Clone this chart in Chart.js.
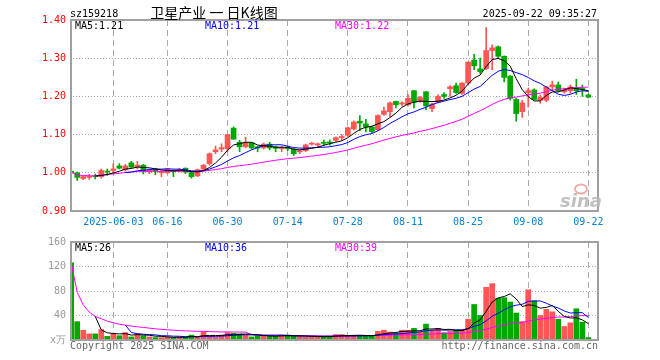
<!DOCTYPE html>
<html>
<head>
<meta charset="utf-8">
<script src="https://cdn.jsdelivr.net/npm/chart.js@4/dist/chart.umd.min.js"></script>
<style>
  html, body { margin: 0; padding: 0; background: #fff; }
  #wrap { position: relative; width: 660px; height: 360px; }
  #price { position: absolute; left: 0; top: 0; }
  #vol { position: absolute; left: 0; top: 232px; }
</style>
</head>
<body>
<div id="wrap">
  <canvas id="price" width="660" height="232"></canvas>
  <canvas id="vol" width="660" height="128"></canvas>
</div>
<script>
// daily candles, 2025-05-22 .. 2025-09-22 (87 trading days)
const opens = [
  1.004, 1.000, 0.985, 0.988, 0.992, 0.990, 1.004, 1.006, 1.018, 1.008,
  1.026, 1.015, 1.020, 1.003, 1.010, 1.000, 1.000, 1.006, 1.005, 1.012,
  1.000, 0.992, 1.010, 1.024, 1.055, 1.062, 1.063, 1.117, 1.080, 1.068,
  1.078, 1.068, 1.065, 1.075, 1.068, 1.063, 1.066, 1.062, 1.055, 1.058,
  1.075, 1.073, 1.080, 1.080, 1.085, 1.092, 1.098, 1.115, 1.135, 1.128,
  1.120, 1.113, 1.153, 1.160, 1.187, 1.180, 1.178, 1.215, 1.188, 1.212,
  1.168, 1.185, 1.205, 1.220, 1.228, 1.208, 1.235, 1.295, 1.272, 1.273,
  1.320, 1.330, 1.305, 1.253, 1.192, 1.160, 1.210, 1.217, 1.190, 1.190,
  1.225, 1.230, 1.212, 1.215, 1.223, 1.220, 1.204
];
const highs = [
  1.013, 1.002, 0.993, 0.996, 0.997, 1.010, 1.010, 1.024, 1.024, 1.022,
  1.030, 1.030, 1.022, 1.010, 1.012, 1.006, 1.012, 1.008, 1.012, 1.013,
  1.002, 1.010, 1.022, 1.052, 1.070, 1.076, 1.100, 1.120, 1.085, 1.093,
  1.080, 1.070, 1.078, 1.080, 1.070, 1.070, 1.070, 1.064, 1.060, 1.075,
  1.080, 1.078, 1.086, 1.086, 1.094, 1.100, 1.120, 1.136, 1.150, 1.140,
  1.122, 1.152, 1.172, 1.185, 1.188, 1.186, 1.205, 1.216, 1.200, 1.213,
  1.182, 1.205, 1.210, 1.228, 1.235, 1.236, 1.290, 1.310, 1.300, 1.380,
  1.335, 1.332, 1.306, 1.255, 1.195, 1.190, 1.222, 1.220, 1.204, 1.226,
  1.240, 1.238, 1.222, 1.230, 1.245, 1.230, 1.206
];
const lows = [
  0.999, 0.980, 0.982, 0.983, 0.984, 0.986, 0.993, 1.000, 1.010, 1.004,
  1.012, 1.010, 0.997, 0.998, 0.995, 0.990, 0.998, 0.990, 1.002, 0.998,
  0.986, 0.990, 1.005, 1.020, 1.050, 1.055, 1.055, 1.088, 1.055, 1.066,
  1.062, 1.055, 1.062, 1.060, 1.055, 1.055, 1.058, 1.045, 1.050, 1.055,
  1.072, 1.068, 1.070, 1.072, 1.082, 1.085, 1.095, 1.112, 1.110, 1.107,
  1.105, 1.110, 1.150, 1.147, 1.170, 1.175, 1.175, 1.170, 1.185, 1.165,
  1.160, 1.183, 1.195, 1.200, 1.208, 1.205, 1.232, 1.270, 1.260, 1.270,
  1.270, 1.300, 1.238, 1.190, 1.135, 1.145, 1.172, 1.190, 1.182, 1.186,
  1.215, 1.212, 1.208, 1.208, 1.205, 1.200, 1.196
];
const closes = [
  1.001, 0.988, 0.990, 0.990, 0.990, 1.006, 1.002, 1.010, 1.012, 1.018,
  1.015, 1.020, 1.005, 1.007, 1.004, 1.003, 1.010, 1.003, 1.009, 1.002,
  0.990, 1.008, 1.020, 1.050, 1.060, 1.066, 1.100, 1.088, 1.068, 1.078,
  1.065, 1.065, 1.075, 1.065, 1.064, 1.066, 1.063, 1.050, 1.058, 1.073,
  1.077, 1.076, 1.077, 1.078, 1.092, 1.095, 1.118, 1.133, 1.130, 1.120,
  1.108, 1.150, 1.162, 1.183, 1.178, 1.183, 1.195, 1.185, 1.197, 1.175,
  1.180, 1.200, 1.200, 1.225, 1.210, 1.235, 1.290, 1.280, 1.265, 1.320,
  1.327, 1.305, 1.250, 1.195, 1.155, 1.183, 1.215, 1.192, 1.197, 1.225,
  1.230, 1.215, 1.217, 1.225, 1.215, 1.218, 1.198
];
// volume in 万
const volumes = [
  126, 30, 16, 10, 10, 17, 6, 10, 7, 12,
  5, 10, 7, 5, 4, 4, 5, 4, 5, 5,
  8, 5, 13, 6, 5, 8, 12, 11, 10, 8,
  5, 7, 7, 6, 6, 8, 8, 6, 6, 5,
  5, 6, 5, 6, 9, 9, 7, 7, 7, 7,
  7, 14, 16, 13, 11, 16, 16, 19, 13, 26,
  16, 19, 12, 14, 16, 16, 34, 58, 40, 86,
  92, 68, 69, 62, 44, 30, 82, 64, 40, 50,
  46, 34, 22, 28, 51, 29, 4
];
const tickIdx = [7, 16, 26, 36, 46, 56, 66, 76, 86];
const tickLabels = ['2025-06-03', '06-16', '06-30', '07-14', '07-28', '08-11', '08-25', '09-08', '09-22'];
const priceTicks = [0.9, 1.0, 1.1, 1.2, 1.3, 1.4];

const RED = '#ff5555';
const GREEN = '#00a800';
const MONO = '"DejaVu Sans Mono", "Liberation Mono", monospace';

function movingAvg(arr, n, fromStart) {
  return arr.map((_, i) => {
    if (i < n - 1 && !fromStart) return null;
    const s = arr.slice(Math.max(0, i - n + 1), i + 1);
    return s.reduce((a, b) => a + b, 0) / s.length;
  });
}

const colors = closes.map((c, i) => (c >= opens[i] ? RED : GREEN));
const pts = arr => arr.map((v, i) => ({ x: i, y: v }));

const ma5 = movingAvg(closes, 5), ma10 = movingAvg(closes, 10), ma30 = movingAvg(closes, 30, true);
const vma5 = movingAvg(volumes, 5), vma10 = movingAvg(volumes, 10), vma30 = movingAvg(volumes, 30, true);
const last = a => a[a.length - 1];

function maLine(data, color) {
  return { type: 'line', data: pts(data), borderColor: color, borderWidth: 1,
    pointRadius: 0, tension: 0, spanGaps: false, order: 1 };
}

function xScale(showLabels) {
  return {
    type: 'linear', min: -0.2, max: 87.6, offset: false,
    afterBuildTicks: s => { s.ticks = tickIdx.map(v => ({ value: v })); },
    ticks: {
      display: showLabels, autoSkip: false, maxRotation: 0, padding: 5,
      color: '#0a80d0', font: { family: MONO, size: 10 },
      callback: (v, i) => tickLabels[i]
    },
    grid: { color: '#aaa', drawTicks: false, offset: false },
    border: { display: false, dash: [6, 4] },
    afterFit: s => { s.height = showLabels ? 21 : 20; }
  };
}

function makeFrame(legend, extra) {
  return {
    id: 'frame',
    afterDraw(chart) {
      const { ctx, chartArea: a } = chart;
      ctx.save();
      ctx.strokeStyle = '#a0a0a0';
      ctx.lineWidth = 2;
      ctx.strokeRect(a.left + 1, a.top, a.right - a.left - 1, a.bottom - a.top);
      ctx.font = '10px ' + MONO;
      ctx.textBaseline = 'middle';
      ctx.fillStyle = '#000'; ctx.fillText(legend[0], 75, a.top + 6.5);
      ctx.fillStyle = '#0000ff'; ctx.fillText(legend[1], 205, a.top + 6.5);
      ctx.fillStyle = '#ff00ff'; ctx.fillText(legend[2], 335, a.top + 6.5);
      extra(ctx, a);
      ctx.restore();
    }
  };
}

const priceFrame = makeFrame(
  ['MA5:' + last(ma5).toFixed(2), 'MA10:' + last(ma10).toFixed(2), 'MA30:' + last(ma30).toFixed(2)],
  (ctx, a) => {
    ctx.textBaseline = 'alphabetic';
    ctx.fillStyle = '#000';
    ctx.font = '10px ' + MONO;
    ctx.fillText('sz159218', 70, 17);
    ctx.textAlign = 'right';
    ctx.fillText('2025-09-22 09:35:27', 597, 17);
    ctx.textAlign = 'center';
    ctx.font = '14px "Noto Sans CJK SC"';
    ctx.fillText('卫星产业 一 日K线图', 214, 18);
    // sina watermark
    ctx.textAlign = 'left';
    ctx.fillStyle = 'rgba(185,185,185,0.9)';
    ctx.font = 'italic bold 18px "DejaVu Sans"';
    ctx.fillText('sina', 560, 207);
    ctx.strokeStyle = 'rgba(240,150,150,0.8)';
    ctx.lineWidth = 2;
    ctx.beginPath(); ctx.ellipse(581, 189, 6, 4.5, 0, 0, Math.PI * 2); ctx.stroke();
  }
);

const volFrame = makeFrame(
  ['MA5:' + Math.floor(last(vma5)), 'MA10:' + Math.floor(last(vma10)), 'MA30:' + Math.floor(last(vma30))],
  (ctx, a) => {
    ctx.textBaseline = 'alphabetic';
    ctx.fillStyle = '#666';
    ctx.font = '10px ' + MONO;
    ctx.fillText('Copyright 2025 SINA.COM', 70, 117);
    ctx.textAlign = 'right';
    ctx.fillText('http://finance.sina.com.cn', 598, 117);
  }
);

new Chart(document.getElementById('price'), {
  type: 'bar',
  data: {
    datasets: [
      maLine(ma5, '#000000'),
      maLine(ma10, '#0000ff'),
      maLine(ma30, '#ff00ff'),
      { type: 'bar', data: closes.map((c, i) => ({ x: i, y: [opens[i], c] })),
        backgroundColor: colors, barThickness: 5, grouped: false, minBarLength: 1, order: 2 },
      { type: 'bar', data: closes.map((c, i) => ({ x: i, y: [lows[i], highs[i]] })),
        backgroundColor: colors, barThickness: 1, grouped: false, minBarLength: 1, order: 3 }
    ]
  },
  options: {
    responsive: false, animation: false, events: [],
    layout: { padding: { left: 0, right: 62, top: 20, bottom: 0 } },
    plugins: { legend: { display: false }, tooltip: { enabled: false } },
    scales: {
      x: xScale(true),
      y: {
        min: 0.9, max: 1.4,
        afterBuildTicks: s => { s.ticks = priceTicks.map(v => ({ value: v })); },
        ticks: { color: '#ff0000', padding: 4, font: { family: MONO, size: 10 }, callback: v => v.toFixed(2) },
        grid: { color: '#aaa', drawTicks: false },
        border: { display: false, dash: [1, 2] },
        afterFit: s => { s.width = 70; }
      }
    }
  },
  plugins: [priceFrame]
});

new Chart(document.getElementById('vol'), {
  type: 'bar',
  data: {
    datasets: [
      maLine(vma5, '#000000'),
      maLine(vma10, '#0000ff'),
      maLine(vma30, '#ff00ff'),
      { type: 'bar', data: pts(volumes), backgroundColor: colors, barThickness: 5,
        grouped: false, minBarLength: 1, order: 2 }
    ]
  },
  options: {
    responsive: false, animation: false, events: [],
    layout: { padding: { left: 0, right: 62, top: 8, bottom: 0 } },
    plugins: { legend: { display: false }, tooltip: { enabled: false } },
    scales: {
      x: xScale(false),
      y: {
        min: 0, max: 160,
        ticks: { stepSize: 40, color: '#999', padding: 4, font: { family: MONO, size: 10 },
          callback: v => (v === 0 ? 'x万' : v) },
        grid: { color: '#aaa', drawTicks: false },
        border: { display: false, dash: [1, 2] },
        afterFit: s => { s.width = 70; }
      }
    }
  },
  plugins: [volFrame]
});
</script>
</body>
</html>
